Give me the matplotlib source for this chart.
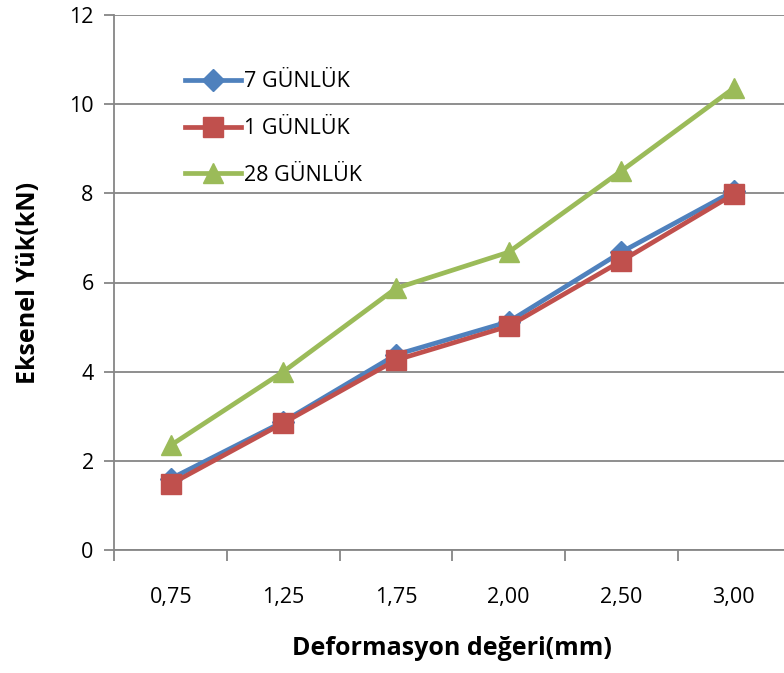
import matplotlib.pyplot as plt
import numpy as np

plt.rcParams['font.family'] = ['Open Sans', 'DejaVu Sans']

deformasyon = ["0,75", "1,25", "1,75", "2,00", "2,50", "3,00"]
yuk_7 = [1.6, 2.88, 4.38, 5.12, 6.68, 8.05]
yuk_1 = [1.48, 2.85, 4.26, 5.02, 6.48, 7.98]
yuk_28 = [2.35, 4.0, 5.87, 6.68, 8.5, 10.36]

blue = "#4F81BD"
red = "#C0504D"
green = "#9BBB59"
grid = "#868686"

fig = plt.figure(figsize=(7.84, 6.73), dpi=100)
# plot area runs a little past the right edge, as in the original sheet
ax = fig.add_axes([114.5 / 784, 1 - 550 / 673, 675.6 / 784, 535 / 673])

x = np.arange(len(deformasyon))
lw = 3.4
l7, = ax.plot(x, yuk_7, color=blue, lw=lw, marker="D", ms=11, zorder=3)
l1, = ax.plot(x, yuk_1, color=red, lw=lw, marker="s", ms=14, zorder=4)
l28, = ax.plot(x, yuk_28, color=green, lw=lw, marker="^", ms=15, zorder=3)

ax.set_xlim(-0.5, len(deformasyon) - 0.5)
ax.set_ylim(0, 12)
ax.set_yticks(np.arange(0, 13, 2))
ax.set_xticks(x)
ax.set_xticklabels(deformasyon)
ax.set_xticks(np.arange(-0.5, len(deformasyon)), minor=True)
ax.tick_params(axis="x", which="major", length=0, pad=27, labelsize=15.5)
ax.tick_params(axis="x", which="minor", length=8, width=1.3, color=grid)
ax.tick_params(axis="y", length=7, width=1.3, color=grid, labelsize=15.5, pad=8)

ax.grid(axis="y", color=grid, lw=1.3)
ax.set_axisbelow(True)
for side in ["top", "right"]:
    ax.spines[side].set_visible(False)
for side in ["left", "bottom"]:
    ax.spines[side].set_color(grid)
    ax.spines[side].set_linewidth(1.3)

ax.set_xlabel("Deformasyon değeri(mm)", fontsize=18, fontweight="bold", labelpad=20)
ax.set_ylabel("Eksenel Yük(kN)", fontsize=18, fontweight="bold", labelpad=20)

ax.legend([l7, l1, l28], ["7 GÜNLÜK", "1 GÜNLÜK", "28 GÜNLÜK"],
          loc="upper left", bbox_to_anchor=(0.088, 0.915), frameon=False,
          fontsize=15.5, handlelength=2.6, handletextpad=0.15,
          labelspacing=1.2, borderpad=0)

fig.savefig("out.png", dpi=100)
